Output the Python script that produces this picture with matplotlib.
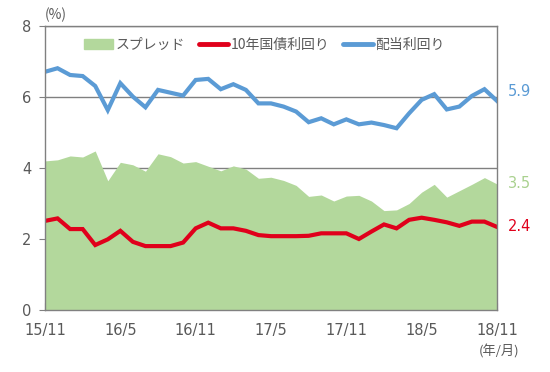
import numpy as np
import matplotlib
matplotlib.use("Agg")
import matplotlib.pyplot as plt
from matplotlib.patches import Patch
from matplotlib.lines import Line2D

plt.rcParams['font.family'] = ['DejaVu Sans', 'Noto Sans CJK JP']

# monthly data, 2015/11 - 2018/11
dividend = [6.71, 6.81, 6.62, 6.59, 6.31, 5.63, 6.39, 6.01, 5.71, 6.20, 6.12, 6.04,
            6.48, 6.51, 6.22, 6.36, 6.20, 5.82, 5.82, 5.73, 5.59, 5.29, 5.40, 5.23,
            5.37, 5.23, 5.28, 5.21, 5.12, 5.54, 5.92, 6.08, 5.65, 5.73, 6.03, 6.22, 5.89]
bond10 = [2.51, 2.58, 2.28, 2.28, 1.83, 1.99, 2.23, 1.92, 1.80, 1.80, 1.80, 1.90,
          2.30, 2.46, 2.30, 2.30, 2.23, 2.11, 2.08, 2.08, 2.08, 2.09, 2.16, 2.16,
          2.16, 2.00, 2.21, 2.41, 2.30, 2.54, 2.60, 2.54, 2.47, 2.37, 2.49, 2.49, 2.34]
spread = [4.20, 4.23, 4.34, 4.31, 4.48, 3.64, 4.16, 4.09, 3.91, 4.40, 4.32, 4.14,
          4.18, 4.05, 3.92, 4.06, 3.97, 3.71, 3.74, 3.65, 3.51, 3.20, 3.24, 3.07,
          3.21, 3.23, 3.07, 2.80, 2.82, 3.00, 3.32, 3.54, 3.18, 3.36, 3.54, 3.73, 3.55]
tick_pos = [0, 6, 12, 18, 24, 30, 36]
tick_labels = ["15/11", "16/5", "16/11", "17/5", "17/11", "18/5", "18/11"]
end_labels = ["5.9", "3.5", "2.4"]

c_green = "#b3d89c"
c_red = "#e0001b"
c_blue = "#5b9bd5"
c_text = "#595959"
c_axis = "#808080"

x = np.arange(len(dividend))

fig = plt.figure(figsize=(5.5, 3.72), dpi=100)
ax = fig.add_axes([45/550, 1-310/372, 452/550, 284/372])

ax.fill_between(x, 0, spread, color=c_green, lw=0, zorder=2)
ax.plot(x, bond10, color=c_red, lw=3, zorder=3, solid_joinstyle="miter")
ax.plot(x, dividend, color=c_blue, lw=3, zorder=3, solid_joinstyle="miter")

ax.set_xlim(0, 36)
ax.set_ylim(0, 8)
ax.set_yticks([0, 2, 4, 6, 8])
ax.set_xticks(tick_pos)
ax.set_xticklabels(tick_labels)
ax.yaxis.grid(True, color=c_axis, lw=1, zorder=1)
ax.set_axisbelow(True)
for s in ax.spines.values():
    s.set_color(c_axis)
    s.set_linewidth(1)
    s.set_zorder(4)
ax.tick_params(axis="y", length=4, color=c_axis, labelcolor=c_text, labelsize=10.5, pad=6)
ax.tick_params(axis="x", direction="in", length=5, color=c_axis, labelcolor=c_text,
               labelsize=10.5, pad=9)

# end labels
ax.annotate(end_labels[0], (36, dividend[-1]), xytext=(8, 7), textcoords="offset points",
            color=c_blue, fontsize=10.5, va="center", annotation_clip=False)
ax.annotate(end_labels[1], (36, spread[-1]), xytext=(8, 0), textcoords="offset points",
            color="#a9d18e", fontsize=10.5, va="center", annotation_clip=False)
ax.annotate(end_labels[2], (36, bond10[-1]), xytext=(8, 0), textcoords="offset points",
            color=c_red, fontsize=10.5, va="center", annotation_clip=False)

fig.text(45/550, 1-15/372, "(%)", color=c_text, fontsize=10, va="center",
         family=['Noto Sans CJK JP', 'DejaVu Sans'])
fig.text(499/550, 1-352/372, "(年/月)", color=c_text, fontsize=9.5, va="center", ha="center",
         family=['Noto Sans CJK JP', 'DejaVu Sans'])

handles = [Patch(color=c_green),
           Line2D([], [], color=c_red, lw=3.5, solid_capstyle="round"),
           Line2D([], [], color=c_blue, lw=3.5, solid_capstyle="round")]
labels = ["スプレッド", "10年国債利回り", "配当利回り"]
leg = ax.legend(handles, labels, loc="center", bbox_to_anchor=(0.485, 0.933), ncol=3,
                frameon=False, handlelength=2.1, handletextpad=0.2, columnspacing=1.0,
                prop={"family": ['Noto Sans CJK JP', 'DejaVu Sans'], "size": 10})
for t in leg.get_texts():
    t.set_color(c_text)

fig.savefig("out.png", dpi=100)
